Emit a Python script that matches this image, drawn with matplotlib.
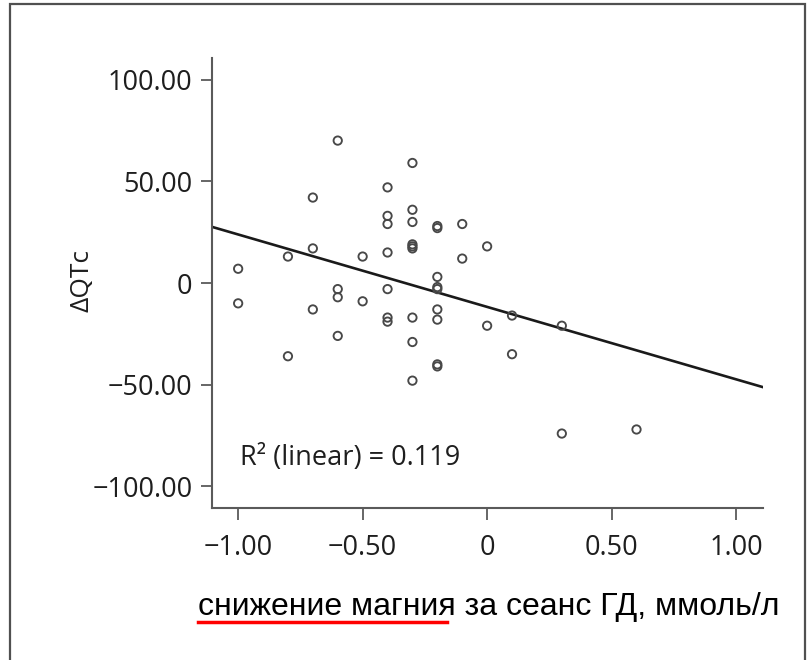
import numpy as np
import matplotlib
matplotlib.use("Agg")
import matplotlib.pyplot as plt
from matplotlib.lines import Line2D
from matplotlib.patches import Rectangle

# magnesium decrease per HD session (mmol/l) vs change of QTc
mg_drop = [-1.0, -1.0,
           -0.8, -0.8,
           -0.7, -0.7, -0.7,
           -0.6, -0.6, -0.6, -0.6,
           -0.5, -0.5,
           -0.4, -0.4, -0.4, -0.4, -0.4, -0.4, -0.4,
           -0.3, -0.3, -0.3, -0.3, -0.3, -0.3, -0.3, -0.3, -0.3,
           -0.2, -0.2, -0.2, -0.2, -0.2, -0.2, -0.2, -0.2, -0.2,
           -0.1, -0.1,
           0.0, 0.0,
           0.1, 0.1,
           0.3, 0.3,
           0.6]
d_qtc = [7, -10,
         13, -36,
         42, 17, -13,
         70, -3, -7, -26,
         13, -9,
         47, 33, 29, 15, -3, -17, -19,
         59, 36, 30, 19, 18, 17, -17, -29, -48,
         28, 27, 3, -2, -3, -13, -18, -40, -41,
         29, 12,
         18, -21,
         -16, -35,
         -21, -74,
         -72]

x_ticks = [-1.0, -0.5, 0, 0.5, 1.0]
x_labels = ["\u22121.00", "\u22120.50", "0", "0.50", "1.00"]
y_ticks = [100, 50, 0, -50, -100]
y_labels = ["100.00", "50.00", "0", "\u221250.00", "\u2212100.00"]

x = np.array(mg_drop)
y = np.array(d_qtc)
slope, intercept = np.polyfit(x, y, 1)

W, H = 809, 660
fig = plt.figure(figsize=(W / 100, H / 100), dpi=100)
ax = fig.add_axes([212 / W, 1 - 508 / H, (763 - 212) / W, (508 - 58) / H])

ax.scatter(x, y, s=36, facecolors="none", edgecolors="#484848", linewidths=1.35, zorder=3)

xlim = (-1.105, 1.108)
xx = np.array(xlim)
ax.plot(xx, slope * xx + intercept, color="#1a1a1a", lw=1.9, zorder=2)

ax.set_xlim(*xlim)
ax.set_ylim(-110.6, 110.6)
ax.set_xticks(x_ticks)
ax.set_xticklabels(x_labels)
ax.set_yticks(y_ticks)
ax.set_yticklabels(y_labels)

for s in ["top", "right"]:
    ax.spines[s].set_visible(False)
for s in ["left", "bottom"]:
    ax.spines[s].set_color("#5a5a5a")
    ax.spines[s].set_linewidth(1.5)

ax.tick_params(axis="x", direction="out", length=8.5, width=1.3, color="#5a5a5a",
               pad=10, labelsize=19.5, labelcolor="#1e1e1e")
ax.tick_params(axis="y", direction="out", length=8, width=1.3, color="#5a5a5a",
               pad=6, labelsize=19.5, labelcolor="#1e1e1e")
for lab in ax.get_xticklabels() + ax.get_yticklabels():
    lab.set_fontfamily("Open Sans")

ax.text(0.05, 0.111, "R\u00b2 (linear) = 0.119", transform=ax.transAxes,
        fontsize=19.5, family="Open Sans", color="#1e1e1e", va="center", ha="left")

fig.text(82 / W, 1 - 280 / H, "\u0394QTc", rotation=90, fontsize=19,
         family="Open Sans", color="#1e1e1e", ha="center", va="center")

fig.text(198 / W, 1 - 607 / H, "снижение магния за сеанс ГД, ммоль/л",
         fontsize=23, family="Liberation Sans", color="black", ha="left", va="center")
fig.add_artist(Line2D([198 / W, 447 / W], [1 - 622 / H, 1 - 622 / H],
                      color="red", lw=2.5))

# outer frame
fig.add_artist(Rectangle((10 / W, -0.01), (805 - 10) / W, 1.01 - 4 / H,
                         fill=False, edgecolor="#505050", lw=1.6,
                         transform=fig.transFigure))

fig.savefig("out.png", dpi=100)
